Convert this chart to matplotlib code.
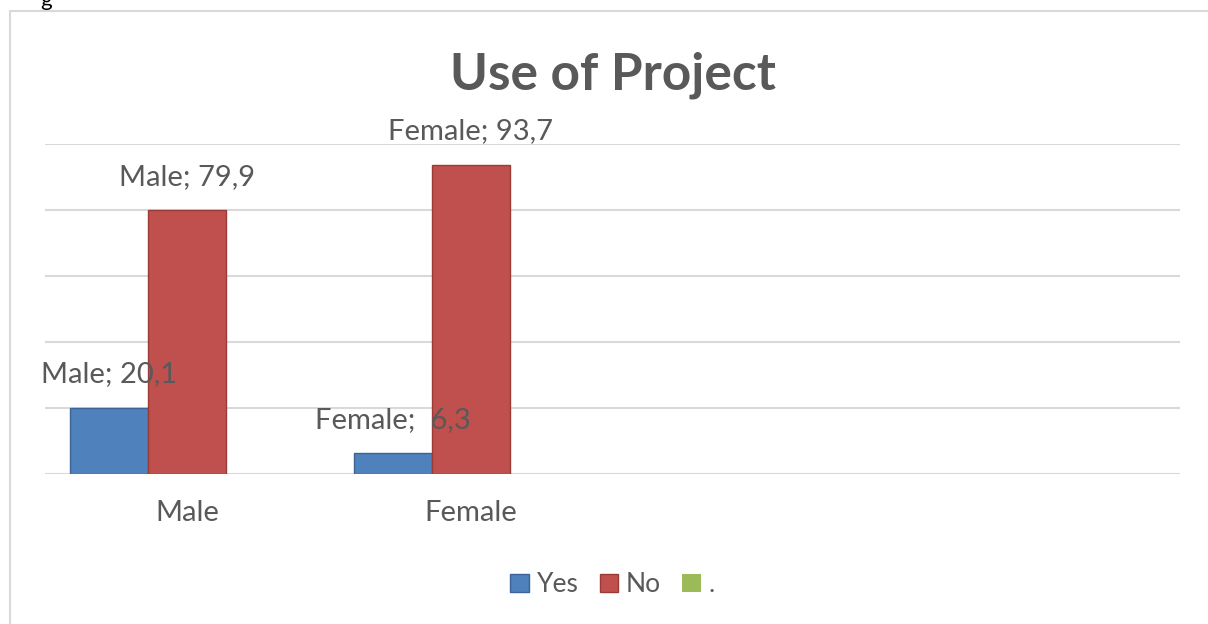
import matplotlib.pyplot as plt
from matplotlib.patches import Rectangle

plt.rcParams['font.family'] = ['Lato', 'DejaVu Sans']

# data
categories = ['Male', 'Female', '', '']
series_names = ['Yes', 'No', '.']
yes_vals = [20.1, 6.3, 0, 0]
no_vals = [79.9, 93.7, 0, 0]
dot_vals = [0, 0, 0, 0]
yes_labels = ['Male; 20,1', 'Female;  6,3', '', '']
no_labels = ['Male; 79,9', 'Female; 93,7', '', '']

colors = ['#4F81BD', '#C0504D', '#9BBB59']
edges = ['#3A6397', '#9A3B38', '#77933C']
text_col = '#595959'

fig = plt.figure(figsize=(12.08, 6.24), dpi=100)
ax = fig.add_axes([0.0373, 0.2404, 0.9396, 0.5288])

# outer chart border (only left/top visible in the crop)
fig.patches.append(Rectangle((10 / 1208, -0.1), 1.2, 1.1 - 11 / 624,
                             transform=fig.transFigure, fill=False,
                             edgecolor='#D9D9D9', linewidth=1.5))
fig.text(0.033, 1.0, 'g', fontsize=16, color='black', va='center', ha='left')

x = range(len(categories))
w = 0.275
all_vals = [yes_vals, no_vals, dot_vals]
offsets = [-w, 0, w]
for vals, off, c, e, name in zip(all_vals, offsets, colors, edges, series_names):
    lw = [1.0 if v > 0 else 0 for v in vals]
    ax.bar([i + off for i in x], vals, width=w, color=c, edgecolor=e,
           linewidth=lw, label=name, zorder=3)

for i in x:
    if yes_labels[i]:
        ax.annotate(yes_labels[i], (i - w, yes_vals[i]), xytext=(0, 24),
                    textcoords='offset points', ha='center', va='center',
                    fontsize=21, color=text_col, zorder=5)
    if no_labels[i]:
        ax.annotate(no_labels[i], (i, no_vals[i]), xytext=(0, 24),
                    textcoords='offset points', ha='center', va='center',
                    fontsize=21, color=text_col, zorder=5)

ax.set_xlim(-0.5, 3.5)
ax.set_ylim(0, 100)
ax.set_yticks(range(0, 101, 20))
ax.set_yticklabels([])
ax.tick_params(axis='y', length=0)
ax.set_xticks(list(x))
ax.set_xticklabels(categories, fontsize=21, color=text_col)
ax.tick_params(axis='x', length=0, pad=19)
ax.grid(axis='y', color='#D9D9D9', linewidth=1.5, zorder=0)
ax.set_axisbelow(True)
for s in ax.spines.values():
    s.set_visible(False)

fig.text(0.507, 0.880, 'Use of Project', fontsize=37, fontweight='bold',
         color=text_col, ha='center', va='center')

ax.legend(loc='center', bbox_to_anchor=(0.5, -0.335), ncol=3, frameon=False,
          fontsize=19, labelcolor=text_col, handlelength=0.7, handleheight=0.7,
          handletextpad=0.3, columnspacing=0.8)

fig.savefig('out.png', dpi=100)
